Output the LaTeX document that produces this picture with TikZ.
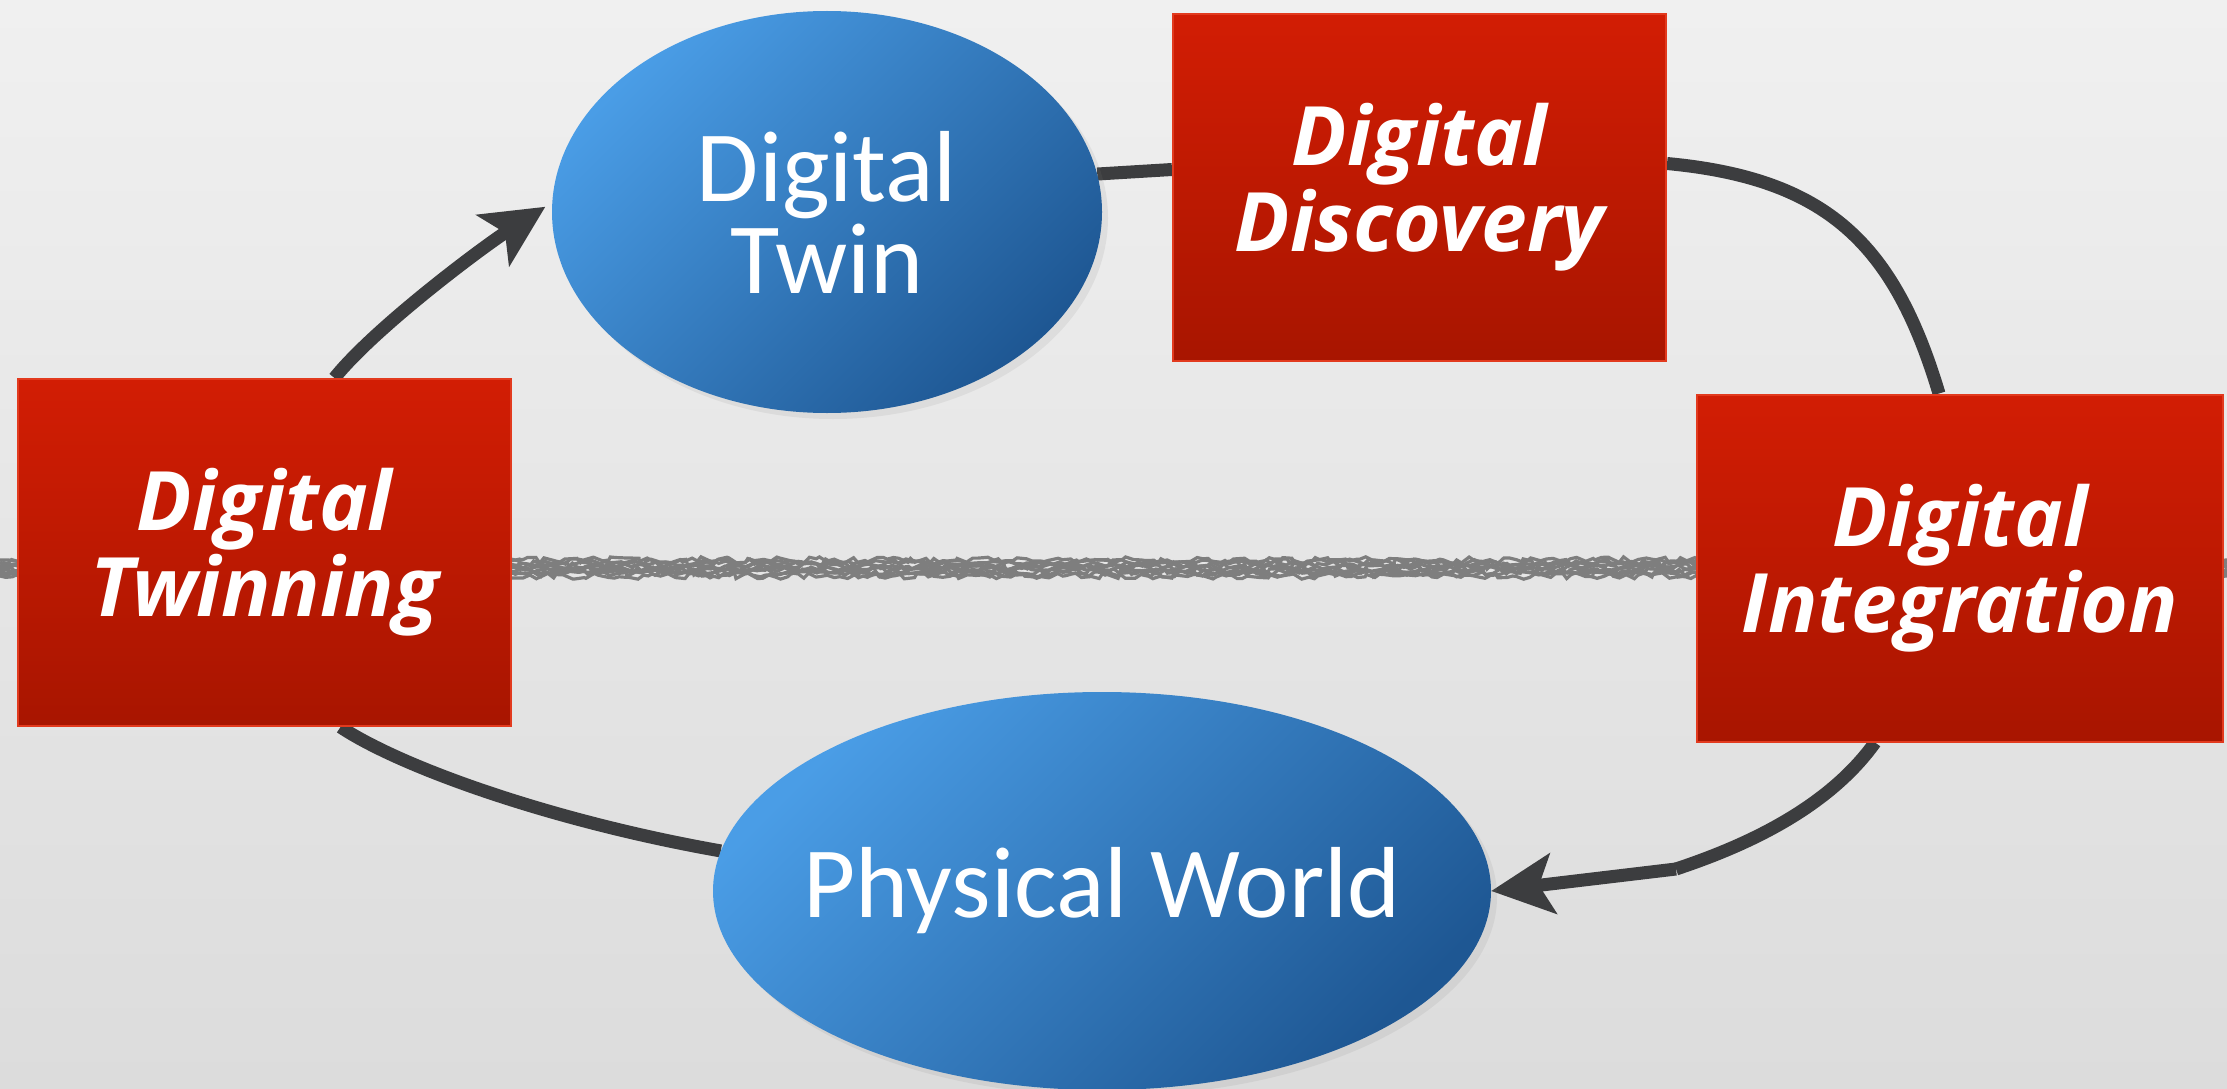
\documentclass[tikz,border=0pt]{standalone}
\usepackage{fontspec}
\setmainfont{Open Sans}
\newfontfamily\ellfont{Carlito}
\usetikzlibrary{shapes.geometric,arrows.meta,decorations.pathmorphing,shadows,calc}
\definecolor{bgtop}{HTML}{F0F0F0}
\definecolor{bgbot}{HTML}{DCDCDC}
\definecolor{roughgray}{HTML}{7E7E7E}
\definecolor{conn}{HTML}{3C3D3F}
\definecolor{boxtop}{HTML}{D21D04}
\definecolor{boxbot}{HTML}{A81500}
\definecolor{boxline}{HTML}{E23A1E}
\definecolor{elllight}{HTML}{4A9DE6}
\definecolor{elldark}{HTML}{1E5793}
\pgfdeclarelayer{bg}
\pgfdeclarelayer{mid}
\pgfsetlayers{bg,mid,main}
\begin{document}
\begin{tikzpicture}[x=1pt,y=-1pt,
  ellnode/.style={ellipse, inner sep=0pt, text=white, align=center,
    top color=elllight, bottom color=elldark, shading angle=45,
    drop shadow={opacity=0.12, shadow xshift=6pt, shadow yshift=-6pt},
    font=\ellfont\fontsize{101}{92}\selectfont},
  boxnode/.style={rectangle, inner sep=0pt, text=white, align=center,
    top color=boxtop, bottom color=boxbot, draw=boxline, line width=2pt,
    minimum width=493pt, minimum height=347pt,
    font=\fontsize{82}{86}\selectfont\bfseries\itshape},
  link/.style={draw=conn, line width=13pt},
  tip/.style={-{Stealth[length=62pt,width=60pt,inset=14pt]}}
]
\useasboundingbox (0,0) rectangle (2227,1089);
\begin{pgfonlayer}{bg}
  \shade[top color=bgtop, bottom color=bgbot] (0,0) rectangle (2227,1089);
  \pgfmathsetseed{11}
  \foreach \dy in {-8,-6,-4,-2,0,2,4,6,8}{
    \draw[roughgray, line width=3.2pt, decorate,
      decoration={random steps, segment length=6pt, amplitude=3.2pt}]
      (0,{568+\dy}) -- (2227,{568+\dy});
  }
\end{pgfonlayer}

\node[ellnode, minimum width=550pt, minimum height=402pt] (twin) at (827,212) {Digital\\Twin};
\node[ellnode, minimum width=778pt, minimum height=398pt] (pw) at (1102,891) {\makebox[0pt]{Physical World}};
\node[boxnode] (disc) at (1419.5,187.5) {Digital\\Discovery};
\node[boxnode, minimum width=526pt] (integ) at (1960,568) {Digital\\Integration};
\node[boxnode] (tw) at (264.5,552.5) {Digital\\Twinning};

\begin{pgfonlayer}{mid}
  \draw[link] (twin.8) -- ([yshift=18pt]disc.west);
  \draw[link] ([yshift=24pt]disc.east) .. controls +(160,15) and +(-45,-150) .. ([xshift=-21pt]integ.north);
  \draw[link] ([xshift=-85pt]integ.south) .. controls +(-50,70) and +(60,-20) .. (1676,869) coordinate (bend);
  \draw[link, tip] (bend) -- (pw.east);
  \draw[link] (pw.174) .. controls +(-170,-30) and +(60,40) .. ([xshift=76pt]tw.south);
  \draw[link, tip, shorten >=8pt] ([xshift=70pt]tw.north) .. controls +(40,-50) and +(-70,45) .. (twin.178);
\end{pgfonlayer}
\end{tikzpicture}
\end{document}
